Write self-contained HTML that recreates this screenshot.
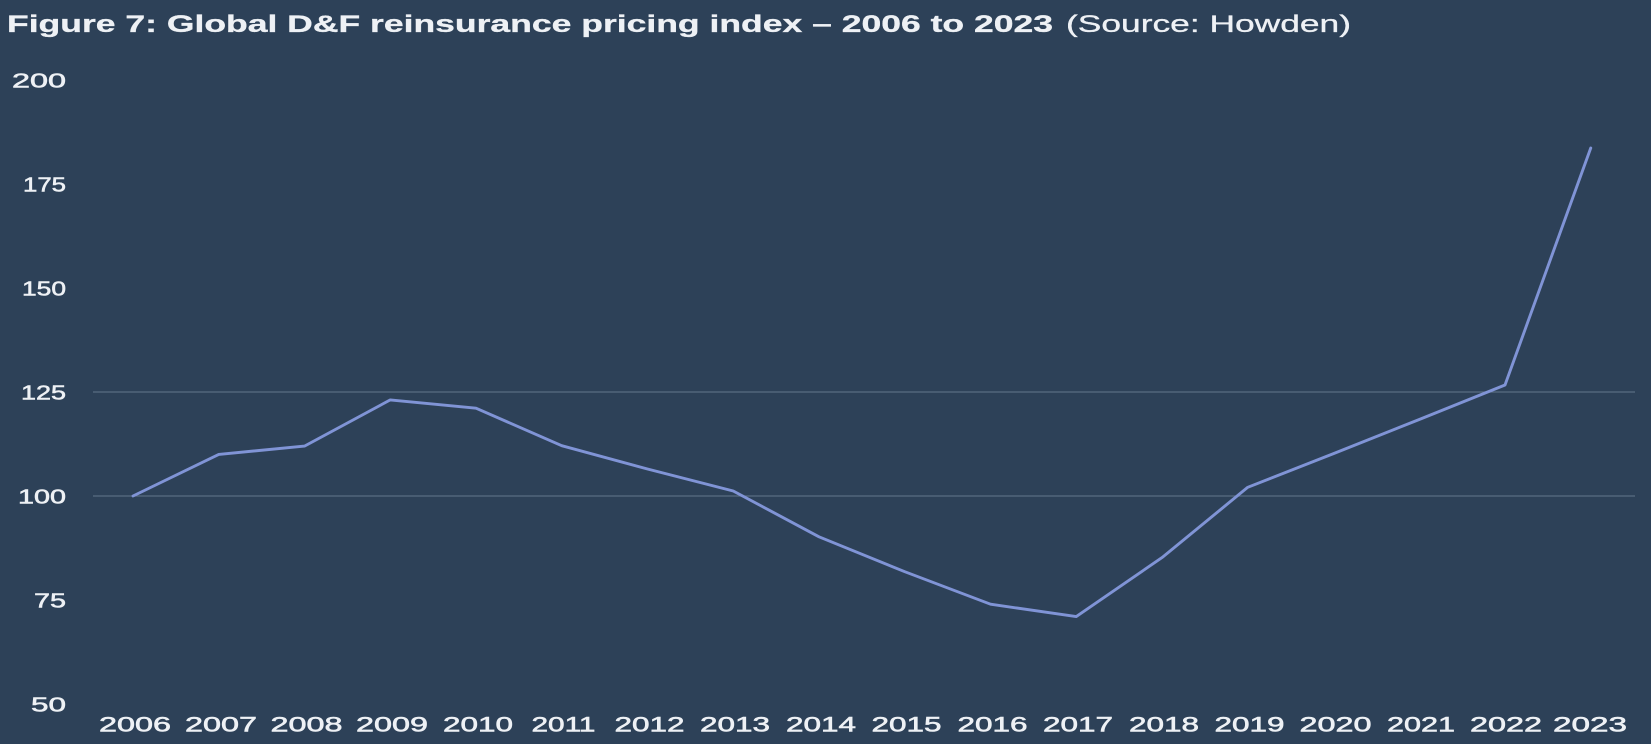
<!DOCTYPE html>
<html>
<head>
<meta charset="utf-8">
<style>
  html, body { margin: 0; padding: 0; background: #2d4158; }
  svg { display: block; }
  text { font-family: "Liberation Sans", "DejaVu Sans", sans-serif; fill: #eef1f5; }
  .med { stroke: #eef1f5; stroke-width: 0.55; }
</style>
</head>
<body>
<svg width="1651" height="744" viewBox="0 0 1651 744" xmlns="http://www.w3.org/2000/svg">
  <rect x="0" y="0" width="1651" height="744" fill="#2d4158"/>

  <!-- Title -->
  <text x="7" y="32" font-size="24" font-weight="bold" textLength="1046" lengthAdjust="spacingAndGlyphs" class="med" style="stroke-width:0.3">Figure 7: Global D&amp;F reinsurance pricing index – 2006 to 2023</text>
  <text x="1066" y="32" font-size="24" textLength="285" lengthAdjust="spacingAndGlyphs" class="med" style="stroke-width:0.3">(Source: Howden)</text>

  <!-- Gridlines -->
  <line x1="93" y1="392" x2="1635" y2="392" stroke="#5a6c82" stroke-width="1.3"/>
  <line x1="93" y1="496" x2="1635" y2="496" stroke="#5a6c82" stroke-width="1.3"/>

  <!-- Y axis labels -->
  <g font-size="20.5" text-anchor="end" class="med">
    <text x="66" y="87.3" textLength="54" lengthAdjust="spacingAndGlyphs">200</text>
    <text x="66" y="191.3" textLength="43" lengthAdjust="spacingAndGlyphs">175</text>
    <text x="66" y="295.3" textLength="44" lengthAdjust="spacingAndGlyphs">150</text>
    <text x="66" y="399.3" textLength="45" lengthAdjust="spacingAndGlyphs">125</text>
    <text x="66" y="503.3" textLength="48" lengthAdjust="spacingAndGlyphs">100</text>
    <text x="66" y="607.3" textLength="32" lengthAdjust="spacingAndGlyphs">75</text>
    <text x="66" y="711.3" textLength="35" lengthAdjust="spacingAndGlyphs">50</text>
  </g>

  <!-- X axis labels -->
  <g font-size="21" text-anchor="middle" class="med">
    <text x="135" y="731.5" textLength="72" lengthAdjust="spacingAndGlyphs">2006</text>
    <text x="221" y="731.5" textLength="72" lengthAdjust="spacingAndGlyphs">2007</text>
    <text x="306.5" y="731.5" textLength="72" lengthAdjust="spacingAndGlyphs">2008</text>
    <text x="392" y="731.5" textLength="72" lengthAdjust="spacingAndGlyphs">2009</text>
    <text x="478" y="731.5" textLength="70" lengthAdjust="spacingAndGlyphs">2010</text>
    <text x="563.5" y="731.5" textLength="64" lengthAdjust="spacingAndGlyphs">2011</text>
    <text x="649.5" y="731.5" textLength="70" lengthAdjust="spacingAndGlyphs">2012</text>
    <text x="735" y="731.5" textLength="70" lengthAdjust="spacingAndGlyphs">2013</text>
    <text x="821" y="731.5" textLength="70" lengthAdjust="spacingAndGlyphs">2014</text>
    <text x="906.5" y="731.5" textLength="70" lengthAdjust="spacingAndGlyphs">2015</text>
    <text x="992.5" y="731.5" textLength="70" lengthAdjust="spacingAndGlyphs">2016</text>
    <text x="1078" y="731.5" textLength="70" lengthAdjust="spacingAndGlyphs">2017</text>
    <text x="1164" y="731.5" textLength="70" lengthAdjust="spacingAndGlyphs">2018</text>
    <text x="1249.5" y="731.5" textLength="70" lengthAdjust="spacingAndGlyphs">2019</text>
    <text x="1335.5" y="731.5" textLength="72" lengthAdjust="spacingAndGlyphs">2020</text>
    <text x="1421" y="731.5" textLength="68" lengthAdjust="spacingAndGlyphs">2021</text>
    <text x="1506" y="731.5" textLength="72" lengthAdjust="spacingAndGlyphs">2022</text>
    <text x="1590" y="731.5" textLength="74" lengthAdjust="spacingAndGlyphs">2023</text>
  </g>

  <!-- Series -->
  <polyline fill="none" stroke="#8094d6" stroke-width="2.9" stroke-linejoin="round" stroke-linecap="round"
    points="133,496 218.75,454.4 304.5,446.1 390.25,399.9 476,408.2 561.75,445.7 647.5,469 733.25,491 819,536.8 904.75,571.7 990.5,604.2 1076.25,616.6 1162,557.6 1247.75,487.3 1333.5,453.6 1419.25,419.5 1505,385 1590.75,148"/>
</svg>
</body>
</html>
